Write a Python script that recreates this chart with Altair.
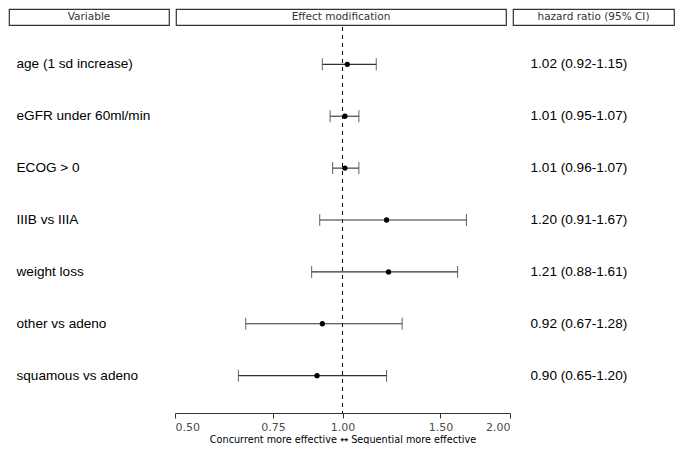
import altair as alt
import pandas as pd

variables = ["age (1 sd increase)", "eGFR under 60ml/min", "ECOG > 0", "IIIB vs IIIA",
             "weight loss", "other vs adeno", "squamous vs adeno"]
hr = [1.02, 1.01, 1.01, 1.20, 1.21, 0.92, 0.90]
lo = [0.92, 0.95, 0.96, 0.91, 0.88, 0.67, 0.65]
hi = [1.15, 1.07, 1.07, 1.67, 1.61, 1.28, 1.20]
headers = ["Variable", "Effect modification", "hazard ratio (95% CI)"]
tick_values = [0.5, 0.75, 1.0, 1.5, 2.0]
axis_title = "Concurrent more effective \u2194 Sequential more effective"

df = pd.DataFrame({"variable": variables, "hr": hr, "lo": lo, "hi": hi})
df["label"] = [f"{h:.2f} ({l:.2f}-{u:.2f})" for h, l, u in zip(hr, lo, hi)]

BODY_H = 386
yscale = alt.Scale(type="point", domain=variables, padding=0.72)
yenc = alt.Y("variable:N", scale=yscale, axis=None)


def header(text, w):
    return alt.Chart(pd.DataFrame({"h": [text]})).mark_text(
        font="DejaVu Sans", fontSize=10.5, color="#333333", baseline="middle"
    ).encode(text="h:N").properties(
        width=w, height=16,
        view=alt.ViewBackground(stroke="#333333", strokeWidth=1.2, fill="white"),
    )


head = alt.hconcat(
    header(headers[0], 160), header(headers[1], 330), header(headers[2], 161),
    spacing=7, bounds="flush",
).resolve_scale(x="independent")

base = alt.Chart(df)

left = base.mark_text(align="left", baseline="middle", font="Liberation Sans",
                      fontSize=13.6, color="black").encode(
    x=alt.value(7.5), y=yenc, text="variable:N"
).properties(width=160, height=BODY_H)

xscale = alt.Scale(type="log", domain=[0.5, 2.0], nice=False)
xenc_lo = alt.X("lo:Q", scale=xscale, axis=alt.Axis(
    values=tick_values, format=".2f", title=axis_title))

ref = alt.Chart(pd.DataFrame({"v": [1.0]})).mark_rule(
    color="black", strokeDash=[4, 4], strokeWidth=1
).encode(x=alt.X("v:Q", scale=xscale))

ci = base.mark_rule(color="#333333", strokeWidth=1.1).encode(
    x=xenc_lo, x2="hi:Q", y=yenc)
cap_lo = base.mark_tick(orient="vertical", color="#333333", thickness=1.1, size=12).encode(
    x=alt.X("lo:Q", scale=xscale), y=yenc)
cap_hi = base.mark_tick(orient="vertical", color="#333333", thickness=1.1, size=12).encode(
    x=alt.X("hi:Q", scale=xscale), y=yenc)
pt = base.mark_point(filled=True, color="black", size=28, opacity=1).encode(
    x=alt.X("hr:Q", scale=xscale), y=yenc)

middle = alt.layer(ref, ci, cap_lo, cap_hi, pt).properties(width=335, height=BODY_H)

right = base.mark_text(align="left", baseline="middle", font="Liberation Sans",
                       fontSize=13.6, color="black").encode(
    x=alt.value(14.5), y=yenc, text="label:N"
).properties(width=161, height=BODY_H)

body = alt.hconcat(left, middle, right, spacing=6, bounds="flush")

chart = alt.vconcat(head, body, spacing=0, bounds="full").properties(
    padding=0, background="white"
).configure_view(stroke=None).configure_axis(
    grid=False,
    labelFont="DejaVu Sans", labelFontSize=11, labelColor="#4d4d4d",
    labelPadding=3,
    domainColor="#333333", tickColor="#333333", tickSize=5,
    titleFont="DejaVu Sans", titleFontSize=9.7, titleFontWeight="normal",
    titleColor="black", titlePadding=2,
)

chart.save("out.html", embed_options={"renderer": "svg", "actions": False})
